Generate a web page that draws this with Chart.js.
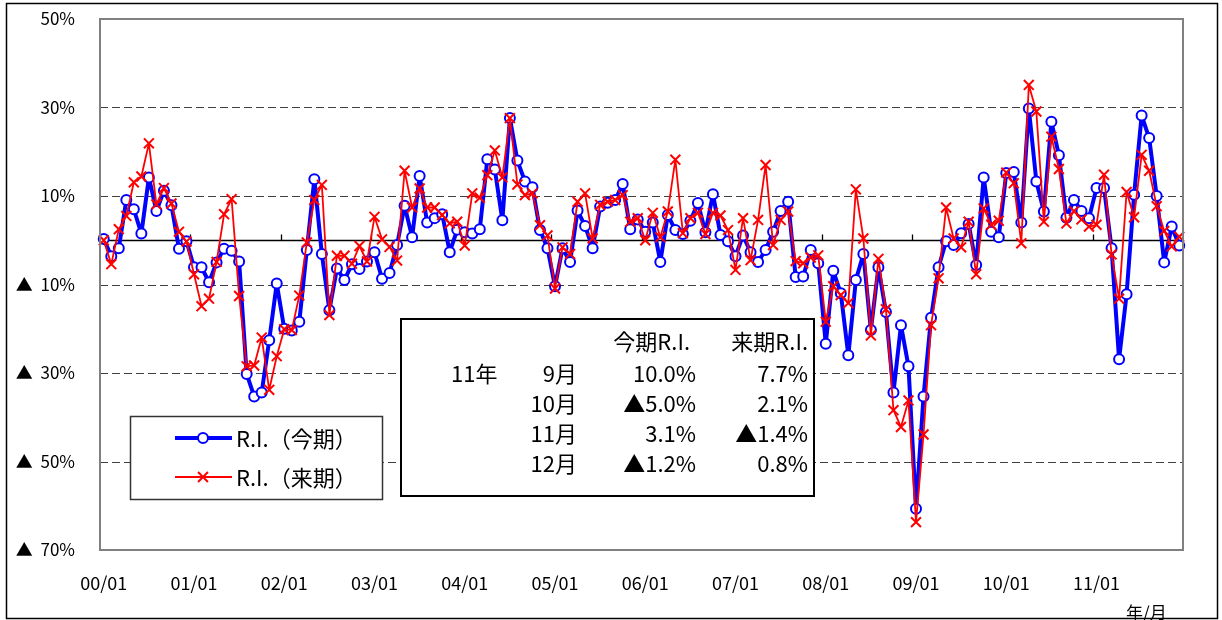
<!DOCTYPE html>
<html>
<head>
<meta charset="utf-8">
<script src="https://cdn.jsdelivr.net/npm/chart.js@4/dist/chart.umd.min.js"></script>
<style>
  html, body { margin: 0; padding: 0; background: #fff; }
  #chart { display: block; }
</style>
</head>
<body>
<canvas id="chart" width="1222" height="620"></canvas>
<script>
// Data
const years = ['00', '01', '02', '03', '04', '05', '06', '07', '08', '09', '10', '11'];
const months = ['01', '02', '03', '04', '05', '06', '07', '08', '09', '10', '11', '12'];
const yTicks = [-70, -50, -30, -10, 0, 10, 30, 50];

// R.I.(今期)
const riNow = [
    0.3, -3.6, -1.8, 9.1, 7.0, 1.5, 14.2, 6.6, 11.2, 7.9, -1.9, -0.2,
    -6.1, -6.1, -9.5, -5.0, -1.9, -2.4, -4.8, -30.2, -35.3, -34.4, -22.6, -9.8,
    -20.0, -20.4, -18.4, -2.2, 13.8, -3.1, -15.8, -6.4, -9.0, -5.4, -6.5, -4.8,
    -2.7, -8.7, -7.4, -1.1, 7.8, 0.7, 14.5, 4.0, 5.0, 5.9, -2.7, 2.4,
    1.8, 1.5, 2.5, 18.3, 16.0, 4.5, 27.6, 18.0, 13.3, 12.0, 2.3, -1.8,
    -10.4, -1.8, -4.9, 6.7, 3.2, -1.8, 7.6, 8.5, 9.1, 12.7, 2.5, 4.7,
    1.9, 4.0, -4.9, 5.7, 2.3, 1.4, 4.4, 8.4, 1.8, 10.4, 1.2, -0.2,
    -3.6, 1.1, -2.7, -4.9, -2.2, 1.9, 6.6, 8.7, -8.3, -8.2, -2.2, -5.2,
    -23.4, -6.9, -12.0, -26.0, -9.0, -3.1, -20.3, -6.1, -16.2, -34.4, -19.2, -28.5,
    -60.7, -35.3, -17.5, -6.1, -0.2, -1.1, 1.6, 3.7, -5.6, 14.2, 1.9, 0.7,
    15.2, 15.4, 4.0, 29.8, 13.3, 6.5, 26.8, 19.2, 5.1, 9.1, 6.6, 5.0,
    11.8, 11.8, -1.8, -26.9, -12.2, 10.3, 28.2, 23.1, 10.0, -5.0, 3.1, -1.2
];

// R.I.(来期)
const riNext = [
    0.0, -5.4, 2.5, 5.5, 13.1, 14.4, 21.9, 8.1, 11.8, 8.3, 1.9, -0.3,
    -7.7, -14.9, -13.2, -4.9, 5.9, 9.3, -12.6, -28.5, -28.3, -22.0, -33.8, -26.2,
    -20.1, -20.3, -12.5, -0.5, 9.1, 12.5, -16.9, -3.5, -3.5, -5.3, -1.3, -4.8,
    5.3, 0.2, -1.5, -4.6, 15.7, 7.4, 11.7, 7.4, 7.4, 5.7, 3.8, 4.2,
    -1.2, 10.6, 9.6, 14.7, 20.3, 14.2, 27.6, 12.6, 10.2, 10.6, 3.4, 1.1,
    -10.9, -1.6, -3.1, 8.7, 10.6, 0.4, 8.0, 8.7, 9.1, 10.2, 4.2, 5.0,
    0.0, 6.2, 0.7, 6.5, 18.2, 1.6, 5.0, 6.2, 1.4, 6.2, 5.6, 2.3,
    -6.7, 5.0, -4.5, 4.6, 17.0, -1.1, 4.6, 6.5, -4.7, -5.2, -3.9, -3.4,
    -18.4, -10.4, -12.4, -14.2, 11.5, 0.4, -21.5, -4.2, -15.6, -38.4, -42.2, -36.2,
    -63.7, -43.9, -19.2, -8.6, 7.4, 0.4, -1.6, 4.2, -7.7, 7.2, 3.5, 4.4,
    15.3, 12.9, -0.7, 35.1, 29.1, 4.2, 23.4, 16.1, 3.8, 6.6, 4.7, 3.1,
    3.5, 14.8, -3.2, -13.2, 10.9, 5.2, 19.3, 15.7, 7.7, 2.1, -1.4, 0.8
];

const seriesNames = ['R.I.（今期）', 'R.I.（来期）'];

// table inside the chart
const tableYear = '11年';
const tableHeads = ['今期R.I.', '来期R.I.'];
const tableMonths = ['9月', '10月', '11月', '12月'];
const tableNow = ['10.0%', '▲5.0%', '3.1%', '▲1.2%'];
const tableNext = ['7.7%', '2.1%', '▲1.4%', '0.8%'];

const labels = years.flatMap(y => months.map(m => y + '/' + m));

const FONT = '"Noto Sans CJK JP", "Noto Sans", sans-serif';
const BLUE = '#0000ff';
const RED = '#ff0000';

// Plugin: background, grid lines, frames, legend, table
const decor = {
    id: 'decor',
    beforeDraw(chart) {
        const ctx = chart.ctx;
        ctx.save();
        ctx.fillStyle = '#fff';
        ctx.fillRect(0, 0, chart.width, chart.height);
        ctx.restore();
    },
    beforeDatasetsDraw(chart) {
        const { ctx, chartArea: a, scales: { x, y } } = chart;
        ctx.save();
        // dashed grid lines
        ctx.strokeStyle = '#404040';
        ctx.lineWidth = 1;
        ctx.setLineDash([8, 4]);
        yTicks.forEach(v => {
            if (v === 0 || v === 50 || v === -70) return;
            const py = Math.round(y.getPixelForValue(v)) + 0.5;
            ctx.beginPath();
            ctx.moveTo(a.left, py);
            ctx.lineTo(a.right, py);
            ctx.stroke();
        });
        ctx.setLineDash([]);
        // zero line with year tick marks
        const y0 = Math.round(y.getPixelForValue(0)) + 0.5;
        ctx.strokeStyle = '#000';
        ctx.lineWidth = 1.3;
        ctx.beginPath();
        ctx.moveTo(a.left, y0);
        ctx.lineTo(a.right, y0);
        for (let k = 1; k < years.length; k++) {
            const px = Math.round((x.getPixelForValue(12 * k) + x.getPixelForValue(12 * k - 1)) / 2) + 0.5;
            ctx.moveTo(px, y0);
            ctx.lineTo(px, y0 - 6);
        }
        ctx.stroke();
        ctx.restore();
    },
    afterDatasetsDraw(chart) {
        const { ctx, chartArea: a } = chart;
        ctx.save();
        // plot area border
        ctx.strokeStyle = '#808080';
        ctx.lineWidth = 2;
        ctx.strokeRect(a.left, a.top, a.right - a.left, a.bottom - a.top);

        // legend
        ctx.fillStyle = '#fff';
        ctx.fillRect(130, 416, 252, 83);
        ctx.strokeStyle = '#333';
        ctx.lineWidth = 1.5;
        ctx.strokeRect(130.5, 416.5, 252, 83);
        const rows = [438, 477];
        chart.data.datasets.forEach((ds, i) => {
            const ly = rows[i];
            ctx.strokeStyle = ds.borderColor;
            ctx.lineWidth = ds.borderWidth;
            ctx.beginPath();
            ctx.moveTo(175, ly);
            ctx.lineTo(232, ly);
            ctx.stroke();
            ctx.fillStyle = ds.pointBackgroundColor || '#fff';
            ctx.strokeStyle = ds.pointBorderColor;
            ctx.lineWidth = ds.pointBorderWidth;
            Chart.helpers.drawPoint(ctx, {
                pointStyle: ds.pointStyle,
                radius: ds.pointRadius,
                borderWidth: ds.pointBorderWidth
            }, 203, ly);
            ctx.fillStyle = '#000';
            ctx.font = '22px ' + FONT;
            ctx.textAlign = 'left';
            ctx.textBaseline = 'middle';
            ctx.fillText(ds.label, 236, ly + 1);
        });

        // table box
        ctx.fillStyle = '#fff';
        ctx.fillRect(401, 319, 413, 177);
        ctx.strokeStyle = '#000';
        ctx.lineWidth = 2;
        ctx.strokeRect(401, 319, 413, 177);
        ctx.fillStyle = '#000';
        ctx.font = '22px ' + FONT;
        ctx.textBaseline = 'middle';
        ctx.textAlign = 'right';
        ctx.fillText(tableHeads[0], 690, 342);
        ctx.fillText(tableHeads[1], 808, 342);
        ctx.textAlign = 'left';
        ctx.fillText(tableYear, 451, 374);
        const rowY = [374, 404, 434, 464];
        tableMonths.forEach((m, i) => {
            ctx.textAlign = 'right';
            ctx.fillText(m, 577, rowY[i]);
            ctx.fillText(tableNow[i], 696, rowY[i]);
            ctx.fillText(tableNext[i], 808, rowY[i]);
        });

        // axis unit
        ctx.font = '17px ' + FONT;
        ctx.textAlign = 'left';
        ctx.fillText('年/月', 1126, 613);

        // outer frame
        ctx.strokeStyle = '#000';
        ctx.lineWidth = 1.5;
        ctx.strokeRect(6.5, 3.5, 1211, 615);
        ctx.restore();
    }
};

new Chart(document.getElementById('chart'), {
    type: 'line',
    data: {
        labels: labels,
        datasets: [{
            label: seriesNames[0],
            data: riNow,
            borderColor: BLUE,
            backgroundColor: '#fff',
            borderWidth: 4,
            borderJoinStyle: 'round',
            pointStyle: 'circle',
            pointRadius: 5,
            pointBorderWidth: 2,
            pointBorderColor: BLUE,
            pointBackgroundColor: '#fff',
            tension: 0,
            order: 1
        }, {
            label: seriesNames[1],
            data: riNext,
            borderColor: RED,
            backgroundColor: RED,
            borderWidth: 1.8,
            borderJoinStyle: 'round',
            pointStyle: 'crossRot',
            pointRadius: 7,
            pointBorderWidth: 2,
            pointBorderColor: RED,
            tension: 0,
            order: 0
        }]
    },
    options: {
        responsive: false,
        animation: false,
        devicePixelRatio: 1,
        layout: { padding: { top: 19, right: 39, left: 0, bottom: 0 } },
        plugins: {
            legend: { display: false },
            tooltip: { enabled: false }
        },
        scales: {
            x: {
                type: 'category',
                offset: true,
                grid: { display: false, drawTicks: true, tickLength: 20 },
                border: { display: false },
                afterFit: scale => { scale.height = 70; },
                ticks: {
                    autoSkip: false,
                    maxRotation: 0,
                    minRotation: 0,
                    padding: 2,
                    color: '#000',
                    font: { family: FONT, size: 18 },
                    callback: (val, i) => (i % 12 === 0 ? labels[i] : '')
                }
            },
            y: {
                min: -70,
                max: 50,
                grid: { display: false, drawTicks: true, tickLength: 22 },
                border: { display: false },
                afterFit: scale => { scale.width = 100; },
                afterBuildTicks: scale => {
                    scale.ticks = yTicks.map(v => ({ value: v }));
                },
                ticks: {
                    padding: 3,
                    color: '#000',
                    font: { family: FONT, size: 17 },
                    callback: v => (v > 0 ? v + '%' : v < 0 ? '▲  ' + (-v) + '%' : '')
                }
            }
        }
    },
    plugins: [decor]
});
</script>
</body>
</html>
